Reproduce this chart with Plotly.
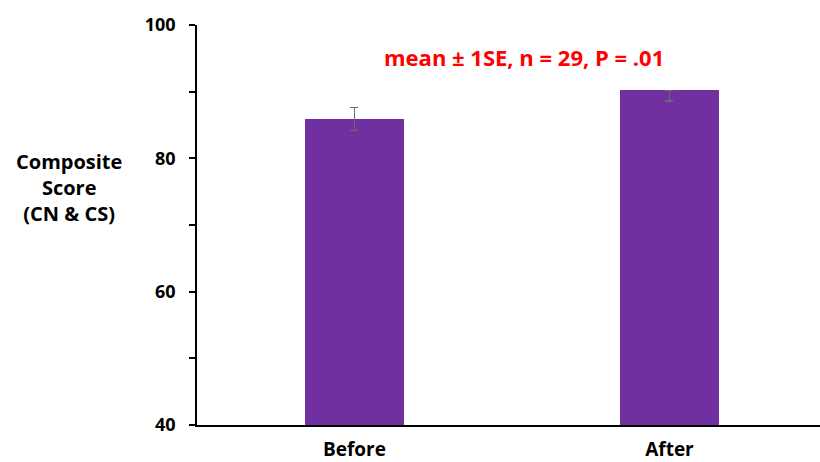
import plotly.graph_objects as go

categories = ["Before", "After"]
means = [85.9, 90.2]
se_upper = [1.7, 0.0]
se_lower = [1.7, 1.6]
tick_vals = [40, 60, 80, 100]
tick_text = ["40", "60", "80", "100"]

bar_color = "#7030A0"
font_family = "Open Sans, DejaVu Sans, sans-serif"

fig = go.Figure()
fig.add_trace(go.Bar(
    x=categories,
    y=means,
    width=0.314,
    marker=dict(color=bar_color, line=dict(width=0)),
    error_y=dict(type="data", symmetric=False, array=se_upper,
                 arrayminus=se_lower, visible=True,
                 color="#6b6b6b", thickness=1.5, width=4),
))

fig.update_layout(
    width=820, height=462,
    margin=dict(l=197, r=0, t=25, b=37),
    plot_bgcolor="white", paper_bgcolor="white",
    showlegend=False,
    font=dict(family=font_family, color="black"),
    bargap=0,
)

fig.update_xaxes(
    range=[-0.5, 1.478],
    showline=True, linecolor="black", linewidth=1.5,
    ticks="", showgrid=False, zeroline=False,
    tickfont=dict(size=19, family=font_family, weight="bold"),
    ticklabelstandoff=6,
)
fig.update_yaxes(
    range=[40, 100],
    tickvals=tick_vals, ticktext=tick_text,
    showline=True, linecolor="black", linewidth=1.5,
    ticks="outside", ticklen=6, tickwidth=1.5, tickcolor="black",
    minor=dict(dtick=10, tick0=40, ticks="outside", ticklen=6,
               tickwidth=1.5, tickcolor="black"),
    showgrid=False, zeroline=False,
    tickfont=dict(size=18, family=font_family, weight="bold"),
    ticklabelstandoff=10,
)

fig.add_annotation(
    text="Composite<br>Score<br>(CN & CS)",
    xref="paper", yref="paper",
    x=-0.205, y=0.595, xanchor="center", yanchor="middle",
    showarrow=False, align="center",
    font=dict(size=20, family=font_family, weight="bold", color="black"),
)

fig.add_annotation(
    text="mean ± 1SE, n = 29, P = .01",
    xref="paper", yref="paper",
    x=0.525, y=0.92, xanchor="center", yanchor="middle",
    showarrow=False,
    font=dict(size=22, family=font_family, weight="bold", color="#ff0000"),
)

fig.write_html("out.html")
